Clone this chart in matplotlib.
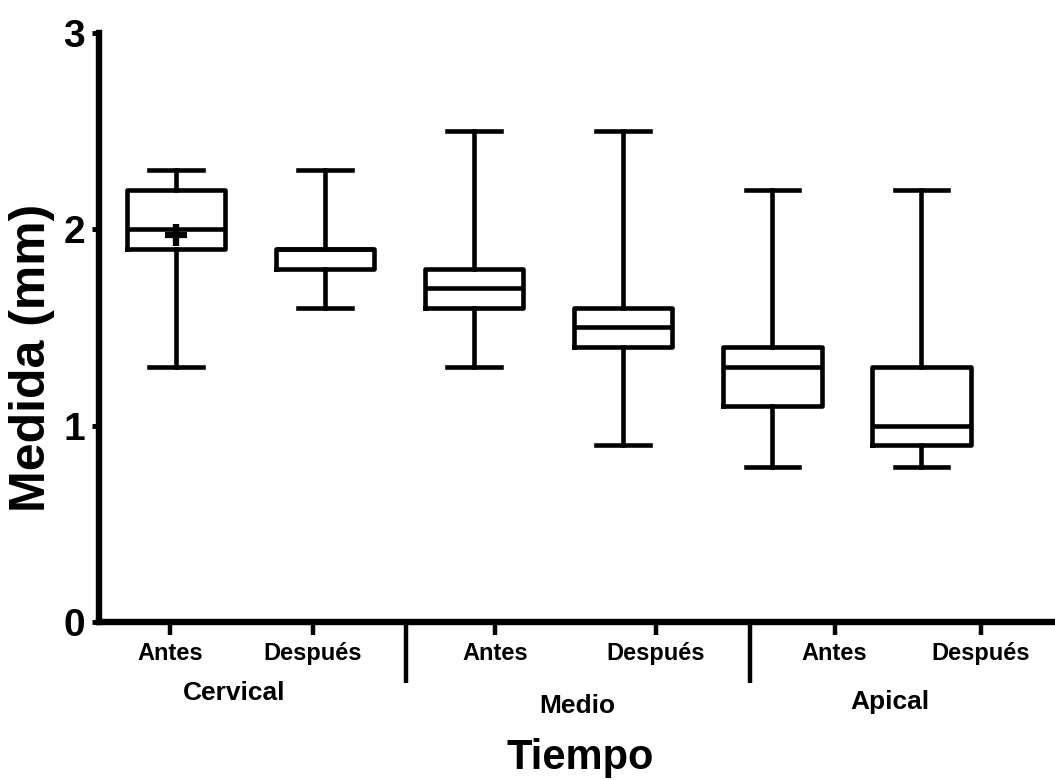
import matplotlib
matplotlib.use("Agg")
import matplotlib.pyplot as plt
import matplotlib.transforms as mtransforms

plt.rcParams['font.family'] = ['Liberation Sans', 'DejaVu Sans']
plt.rcParams['font.weight'] = 'bold'

# box summaries, one per region/time
conditions = ['Antes', 'Después', 'Antes', 'Después', 'Antes', 'Después']
regions = ['Cervical', 'Medio', 'Apical']
whis_low = [1.3, 1.6, 1.3, 0.9, 0.79, 0.79]
q1 = [1.9, 1.8, 1.6, 1.4, 1.1, 0.9]
median = [2.0, 1.9, 1.7, 1.5, 1.3, 1.0]
q3 = [2.2, 1.9, 1.8, 1.6, 1.4, 1.3]
whis_high = [2.3, 2.3, 2.5, 2.5, 2.2, 2.2]
mean_first = 1.97

# axis decorations
label_ticks = [0.96, 1.92, 3.14, 4.22, 5.42, 6.40]
group_breaks = [2.544, 4.852]
region_x = [1.39, 3.69, 5.79]
region_y = [-0.1205, -0.1426, -0.1358]

fig = plt.figure(figsize=(10.55, 7.80), dpi=100)
ax = fig.add_axes([0.0938, 0.2026, 0.9062, 0.7551])

stats = []
for i in range(len(q1)):
    s = dict(med=median[i], q1=q1[i], q3=q3[i],
             whislo=whis_low[i], whishi=whis_high[i], fliers=[])
    if i == 0:
        s['mean'] = mean_first
    stats.append(s)

lw = 3.3
ax.bxp(stats, positions=range(1, 7), widths=0.664, capwidths=0.356,
       showmeans=False, showfliers=False,
       boxprops=dict(color='black', linewidth=lw),
       medianprops=dict(color='black', linewidth=lw),
       whiskerprops=dict(color='black', linewidth=lw),
       capprops=dict(color='black', linewidth=lw))
ax.plot([1], [mean_first], marker='+', color='black', markersize=16,
        markeredgewidth=4.5, linestyle='none', zorder=5)

ax.set_xlim(0.483, 6.899)
ax.set_ylim(0, 3)

for side in ['top', 'right']:
    ax.spines[side].set_visible(False)
for side in ['left', 'bottom']:
    ax.spines[side].set_linewidth(4.6)
    ax.spines[side].set_capstyle('projecting')

ax.set_yticks([0, 1, 2, 3])
ax.tick_params(axis='y', length=5, width=3.5, pad=5, labelsize=28)
for t in ax.get_yticklabels():
    t.set_fontweight('bold')

# long ticks split the regions, short ones carry Antes/Después
ax.set_xticks(group_breaks)
ax.set_xticklabels([])
ax.tick_params(axis='x', which='major', length=44, width=3.2)
ax.set_xticks(label_ticks, minor=True)
ax.set_xticklabels(conditions, minor=True, fontsize=17, fontweight='bold')
ax.tick_params(axis='x', which='minor', length=9.5, width=3.2, pad=5)

trans = mtransforms.blended_transform_factory(ax.transData, ax.transAxes)
for name, x, y in zip(regions, region_x, region_y):
    ax.text(x, y, name, transform=trans, ha='center', va='center',
            fontsize=19, fontweight='bold')

ax.set_xlabel('Tiempo', fontsize=30, fontweight='bold')
ax.xaxis.set_label_coords(0.503, -0.231)
ax.xaxis.label.set_va('center')
ax.set_ylabel('Medida (mm)', fontsize=36, fontweight='bold')
ax.yaxis.set_label_coords(-0.070, 0.448)
ax.yaxis.label.set_va('center')

fig.savefig('out.png', dpi=100)
